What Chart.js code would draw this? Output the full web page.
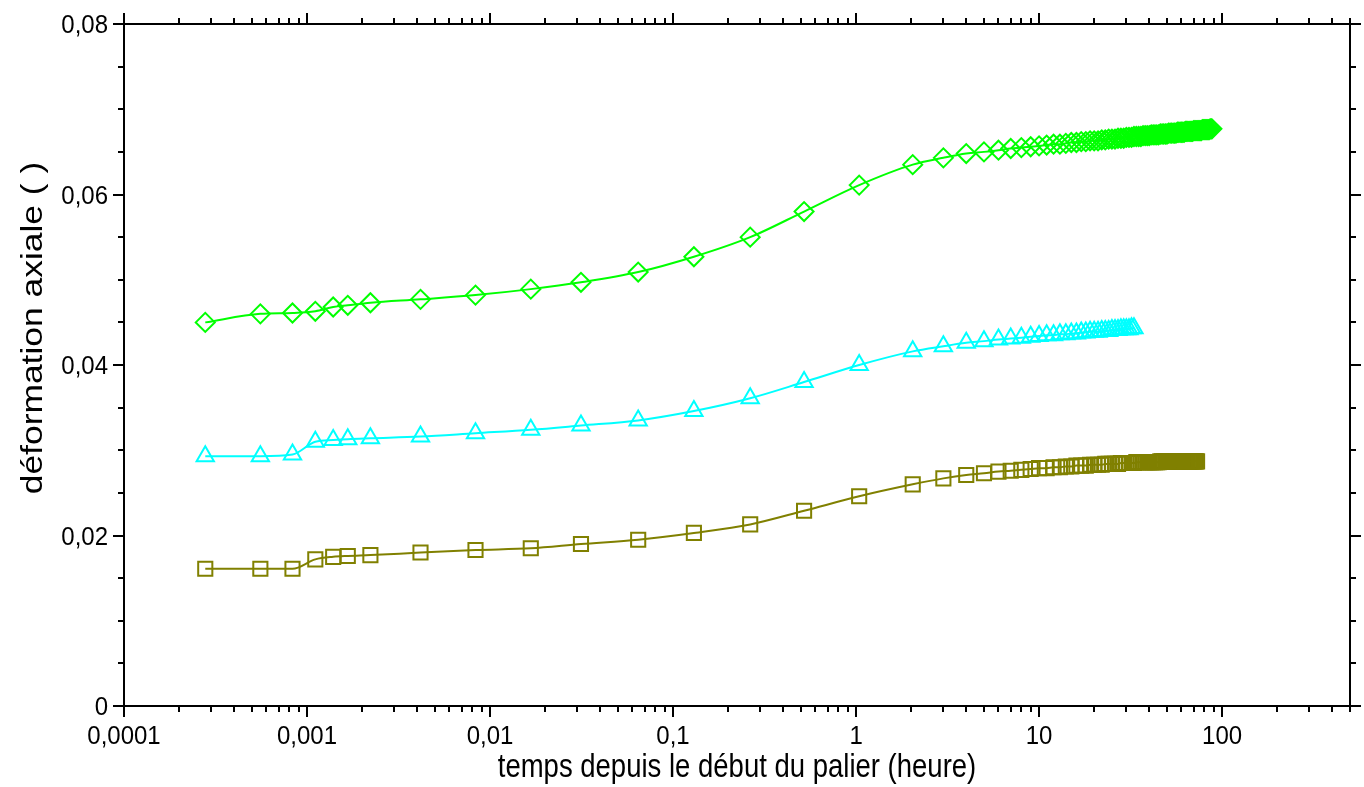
<!DOCTYPE html>
<html lang="fr">
<head>
<meta charset="utf-8">
<title>Déformation axiale en fonction du temps</title>
<script src="https://cdn.jsdelivr.net/npm/chart.js@4.4.1/dist/chart.umd.min.js"></script>
<style>
  html, body { margin: 0; padding: 0; background: #fff; }
</style>
</head>
<body>
<canvas id="fluage" width="1364" height="787"></canvas>
<script>
// Temps depuis le début du palier (heure) : 1 s, 2 s, 3 s ... puis chaque heure
const temps = [
  0.000278, 0.000556, 0.000833, 0.00111, 0.00139, 0.00167, 0.00222, 0.00417,
  0.00833, 0.0167, 0.0314, 0.0645, 0.130, 0.264, 0.52, 1.04, 2.04,
  3, 4, 5, 6, 7, 8, 9, 10,
  11, 12, 13, 14, 15, 16, 17, 18, 19, 20,
  21, 22, 23, 24, 25, 26, 27, 28, 29, 30,
  31, 32, 33, 34, 35, 36, 37, 38, 39, 40,
  41, 42, 43, 44, 45, 46, 47, 48, 49, 50,
  51, 52, 53, 54, 55, 56, 57, 58, 59, 60,
  61, 62, 63, 64, 65, 66, 67, 68, 69, 70,
  71, 72, 73, 74, 75, 76, 77, 78, 79, 80,
  81, 82, 83, 84, 85, 86, 87, 88
];

// Déformation axiale, courbe verte (losanges)
const defVert = [
  0.0450, 0.0460, 0.0461, 0.0463, 0.0468, 0.0470, 0.0473, 0.0477,
  0.0482, 0.0489, 0.0497, 0.0509, 0.0527, 0.0550, 0.0580, 0.0611, 0.0635,
  0.0643, 0.0648, 0.0650, 0.0652, 0.0654, 0.0655, 0.0656, 0.0657,
  0.0658, 0.0659, 0.0659, 0.0660, 0.0661, 0.0661, 0.0662, 0.0662, 0.0663, 0.0663,
  0.0663, 0.0664, 0.0664, 0.0665, 0.0665, 0.0665, 0.0666, 0.0666, 0.0666, 0.0667,
  0.0667, 0.0667, 0.0668, 0.0668, 0.0668, 0.0668, 0.0669, 0.0669, 0.0669, 0.0669,
  0.0670, 0.0670, 0.0670, 0.0670, 0.0670, 0.0671, 0.0671, 0.0671, 0.0671, 0.0671,
  0.0672, 0.0672, 0.0672, 0.0672, 0.0672, 0.0672, 0.0673, 0.0673, 0.0673, 0.0673,
  0.0673, 0.0673, 0.0674, 0.0674, 0.0674, 0.0674, 0.0674, 0.0674, 0.0674, 0.0675,
  0.0675, 0.0675, 0.0675, 0.0675, 0.0675, 0.0675, 0.0675, 0.0676, 0.0676, 0.0676,
  0.0676, 0.0676, 0.0676, 0.0676, 0.0676, 0.0677, 0.0677, 0.0677
];

// Courbe cyan (triangles)
const defCyan = [
  0.0293, 0.0293, 0.0295, 0.0310, 0.0312, 0.0313, 0.0314, 0.0316,
  0.0320, 0.0324, 0.0329, 0.0335, 0.0346, 0.0361, 0.0380, 0.0400, 0.0416,
  0.0422, 0.0426, 0.0428, 0.0430, 0.0431, 0.0432, 0.0433, 0.0434,
  0.0435, 0.0435, 0.0436, 0.0436, 0.0437, 0.0437, 0.0438, 0.0438, 0.0439, 0.0439,
  0.0439, 0.0440, 0.0440, 0.0440, 0.0441, 0.0441, 0.0441, 0.0442, 0.0442, 0.0442,
  0.0442, 0.0443, 0.0443
];

// Courbe olive (carrés)
const defOlive = [
  0.0161, 0.0161, 0.0161, 0.0172, 0.0175, 0.0176, 0.0177, 0.0180,
  0.0183, 0.0185, 0.0190, 0.0195, 0.0203, 0.0213, 0.0229, 0.0246, 0.0260,
  0.0267, 0.0271, 0.0273, 0.0275, 0.0276, 0.0277, 0.0278, 0.0279,
  0.0279, 0.0280, 0.0280, 0.0281, 0.0281, 0.0282, 0.0282, 0.0282, 0.0283, 0.0283,
  0.0283, 0.0283, 0.0284, 0.0284, 0.0284, 0.0284, 0.0284, 0.0285, 0.0285, 0.0285,
  0.0285, 0.0285, 0.0285, 0.0286, 0.0286, 0.0286, 0.0286, 0.0286, 0.0286, 0.0286,
  0.0286, 0.0286, 0.0286, 0.0286, 0.0286, 0.0287, 0.0287, 0.0287, 0.0287, 0.0287,
  0.0287, 0.0287, 0.0287, 0.0287, 0.0287, 0.0287, 0.0287, 0.0287, 0.0287, 0.0287,
  0.0287, 0.0287, 0.0287, 0.0287, 0.0287, 0.0287, 0.0287, 0.0287, 0.0287, 0.0287,
  0.0287, 0.0287, 0.0287
];

// Axes
const xMin = 0.0001;
const xMax = 500;
const xTicks = [0.0001, 0.001, 0.01, 0.1, 1, 10, 100];
const xTickLabels = ['0,0001', '0,001', '0,01', '0,1', '1', '10', '100'];
const yMin = 0;
const yMax = 0.08;
const yTicks = [0, 0.02, 0.04, 0.06, 0.08];
const yTickLabels = ['0', '0,02', '0,04', '0,06', '0,08'];
const yMinorStep = 0.005;
const xTitle = 'temps depuis le début du palier (heure)';
const yTitle = 'déformation axiale ( )';

function points(valeurs) {
    return valeurs.map((v, i) => ({ x: temps[i], y: v }));
}

function texte(ctx, str, x, y, taille, sx, sy, angle, align) {
    ctx.save();
    ctx.translate(x, y);
    ctx.rotate(angle);
    ctx.scale(sx, sy);
    ctx.font = taille + 'px "Liberation Sans", Arial, sans-serif';
    ctx.textAlign = align;
    ctx.textBaseline = 'alphabetic';
    ctx.fillStyle = '#000';
    ctx.fillText(str, 0, 0);
    ctx.restore();
}

// Cadre, graduations et textes des axes
const cadre = {
    id: 'cadre',
    afterDraw(chart) {
        const { ctx, chartArea: a, scales: { x, y } } = chart;
        ctx.save();
        ctx.strokeStyle = '#000';
        ctx.lineWidth = 2;
        ctx.beginPath();

        // graduations log en x (haut et bas, vers l'extérieur)
        for (let e = -4; e <= 2; e++) {
            for (let s = 1; s <= 9; s++) {
                const v = s * Math.pow(10, e);
                if (v > xMax * 1.0001) break;
                const px = Math.round(x.getPixelForValue(v));
                const len = s === 1 ? 11 : 6;
                ctx.moveTo(px, a.bottom);
                ctx.lineTo(px, a.bottom + len);
                ctx.moveTo(px, a.top);
                ctx.lineTo(px, a.top - len);
            }
        }

        // graduations en y (gauche et droite)
        const nY = Math.round((yMax - yMin) / yMinorStep);
        for (let i = 0; i <= nY; i++) {
            const v = yMin + i * yMinorStep;
            const py = Math.round(y.getPixelForValue(v));
            const len = i % 4 === 0 ? 11 : 6;
            ctx.moveTo(a.left, py);
            ctx.lineTo(a.left - len, py);
            ctx.moveTo(a.right, py);
            ctx.lineTo(a.right + len, py);
        }
        ctx.stroke();

        ctx.strokeRect(a.left, a.top, a.right - a.left, a.bottom - a.top);

        // étiquettes
        xTicks.forEach((v, i) => {
            texte(ctx, xTickLabels[i], x.getPixelForValue(v), a.bottom + 38, 24, 1, 1.05, 0, 'center');
        });
        yTicks.forEach((v, i) => {
            texte(ctx, yTickLabels[i], a.left - 16, y.getPixelForValue(v) + 9, 24, 1, 1.05, 0, 'right');
        });

        // titres
        texte(ctx, xTitle, (a.left + a.right) / 2, 777, 27.5, 1, 1.2, 0, 'center');
        texte(ctx, yTitle, 42, 328, 30, 1.18, 1, -Math.PI / 2, 'center');

        ctx.restore();
    }
};

const serie = (valeurs, couleur, forme, rayon) => ({
    data: points(valeurs),
    showLine: true,
    borderColor: couleur,
    backgroundColor: 'rgba(0,0,0,0)',
    borderWidth: 2,
    pointStyle: forme,
    pointRadius: rayon,
    pointHoverRadius: rayon,
    pointBorderWidth: 2,
    pointBorderColor: couleur,
    pointBackgroundColor: 'rgba(0,0,0,0)',
    cubicInterpolationMode: 'monotone'
});

new Chart(document.getElementById('fluage'), {
    type: 'scatter',
    data: {
        datasets: [
            serie(defOlive, '#808000', 'rect', 10),
            serie(defCyan, '#00ffff', 'triangle', 10),
            serie(defVert, '#00ff00', 'rectRot', 9.5)
        ]
    },
    options: {
        responsive: false,
        devicePixelRatio: 1,
        animation: false,
        layout: { padding: { left: 124, right: 14, top: 24, bottom: 81 } },
        plugins: {
            legend: { display: false },
            tooltip: { enabled: false }
        },
        scales: {
            x: { type: 'logarithmic', min: xMin, max: xMax, display: false },
            y: { type: 'linear', min: yMin, max: yMax, display: false }
        }
    },
    plugins: [cadre]
});
</script>
</body>
</html>
